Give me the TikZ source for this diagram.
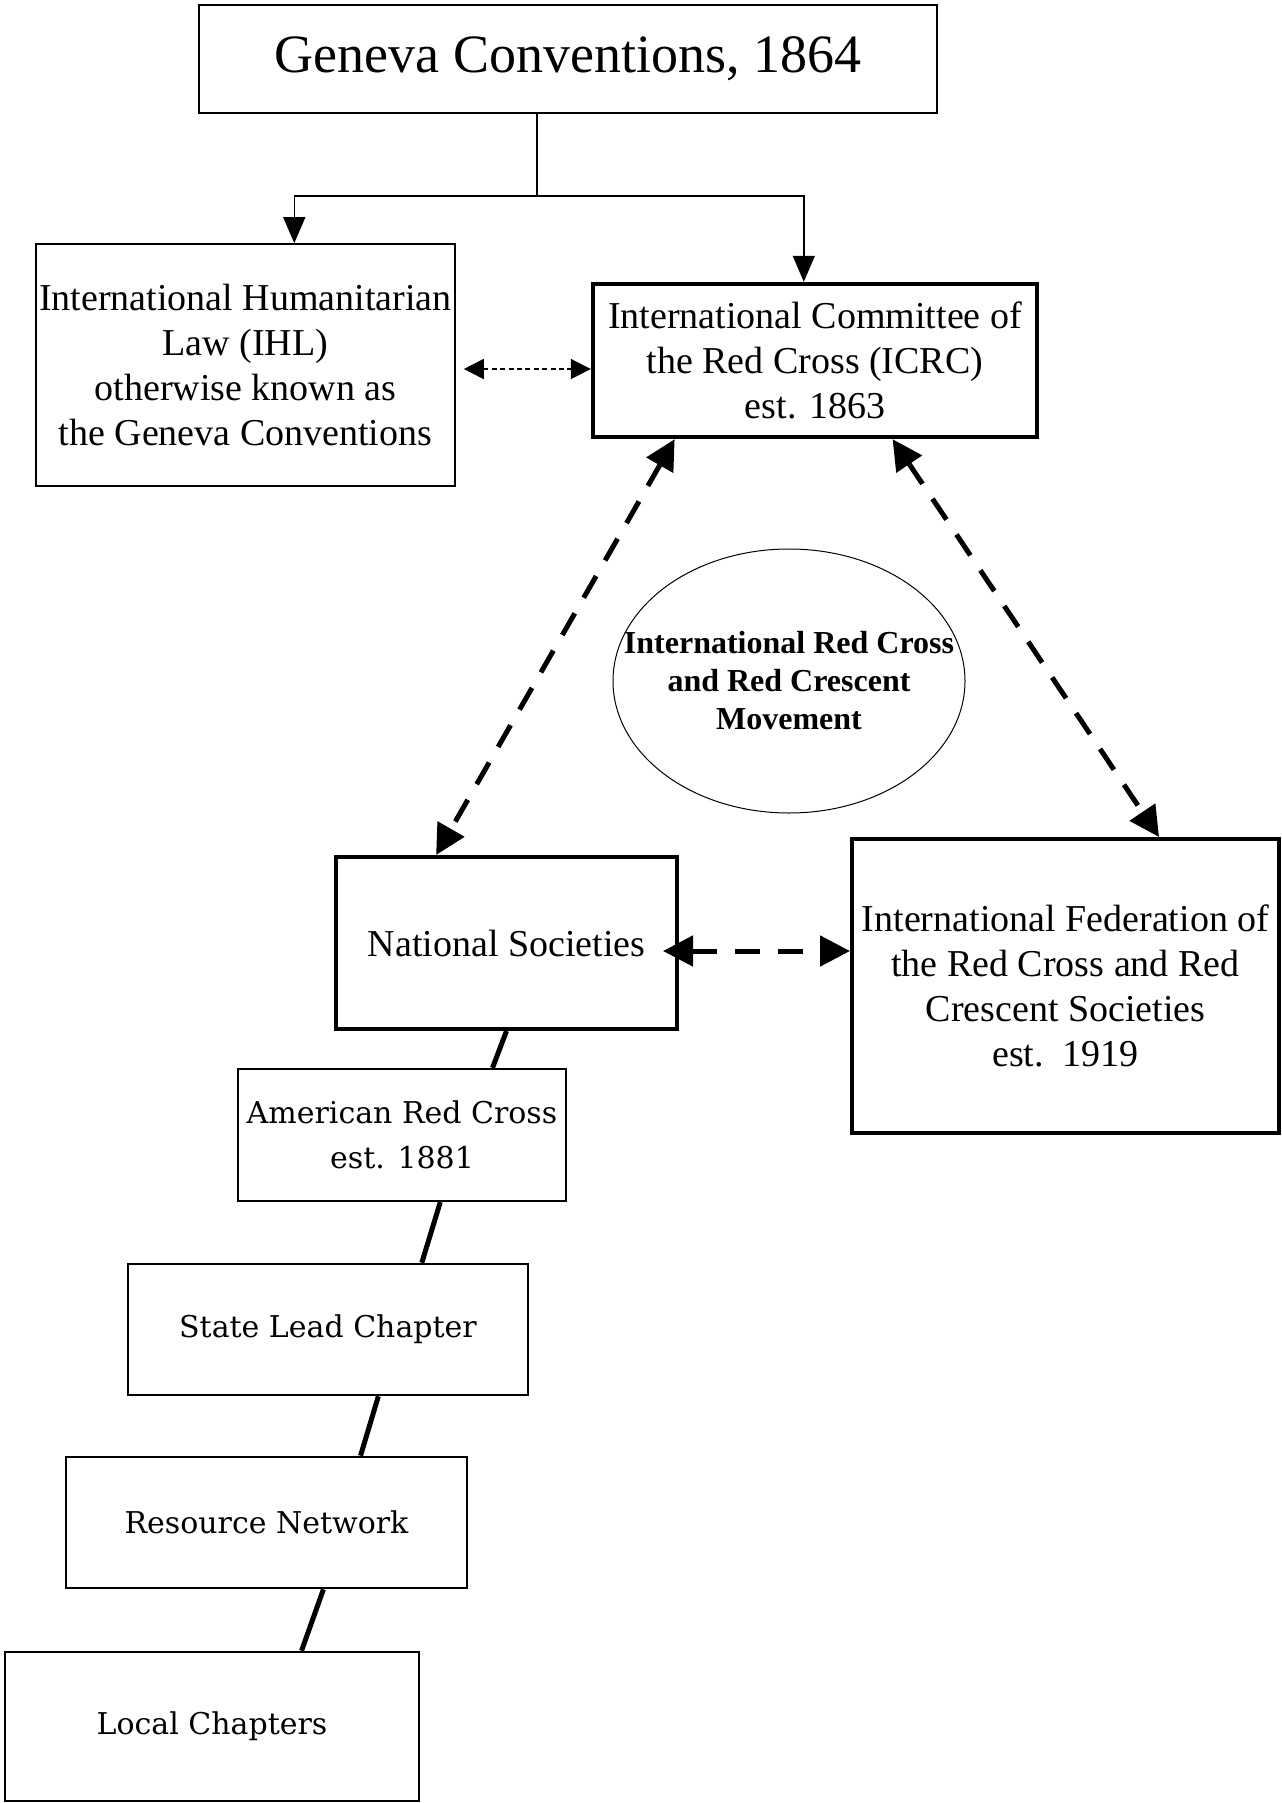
\documentclass[tikz,border=0pt]{standalone}
\usepackage{fontspec}
\setmainfont{Liberation Serif}
\newfontfamily\schoolfont{DejaVu Serif}
\usepackage{tikz}
\usetikzlibrary{positioning, shapes.geometric, arrows.meta, calc}

\begin{document}
\begin{tikzpicture}[
    x=0.5pt, y=-0.5pt,
    box/.style={rectangle, draw, align=center, inner sep=1pt, font=\fontsize{19}{22.5}\selectfont},
    thinbox/.style={box, line width=0.8pt},
    heavybox/.style={box, line width=2.2pt},
    chapterbox/.style={box, line width=1.3pt, font=\schoolfont\fontsize{15}{22.5}\selectfont},
    movement/.style={ellipse, draw, line width=0.5pt, inner sep=0pt},
    movementtext/.style={align=center, inner sep=0pt, font=\bfseries\fontsize{16}{19}\selectfont},
    link/.style={line width=2.5pt},
    feed/.style={line width=0.7pt, -{Triangle[length=13pt, width=11pt]}},
    tie/.style={line width=2.5pt, dash pattern=on 12.5pt off 9pt, {Triangle[length=15pt, width=15pt]}-{Triangle[length=15pt, width=15pt]}},
    lighttie/.style={line width=0.9pt, dash pattern=on 2.5pt off 1.7pt, {Triangle[length=10pt, width=10pt]}-{Triangle[length=10pt, width=10pt]}}
]
\useasboundingbox (0,0) rectangle (1281,1803);

% Top node
\node[thinbox, minimum width=369pt, minimum height=54pt, font=\fontsize{27}{30}\selectfont] (geneva) at (568,59) {Geneva Conventions, 1864};

% Law and committee
\node[thinbox, minimum width=209.5pt, minimum height=121pt] (ihl) at (245.5,365) {International Humanitarian\\ Law (IHL)\\ otherwise known as\\ the Geneva Conventions};
\node[heavybox, minimum width=222pt, minimum height=76.5pt] (icrc) at (815,360.5) {International Committee of\\ the Red Cross (ICRC)\\ est. 1863};

% Movement
\node[movement, minimum width=176pt, minimum height=132pt] (movement) at (789,681) {};
\node[movementtext] (movementlabel) at (movement) {International Red Cross\\ and Red Crescent\\ Movement};

\node[heavybox, line width=2pt, minimum width=170.5pt, minimum height=86pt] (national) at (506.5,943) {National Societies};
\node[heavybox, line width=2pt, minimum width=213.5pt, minimum height=147pt] (ifrc) at (1065.5,986) {International Federation of\\ the Red Cross and Red\\ Crescent Societies\\ est.\ \ 1919};

% Chapters
\node[chapterbox, line width=1.1pt, minimum width=164pt, minimum height=66pt] (american) at (402,1135) {American Red Cross\\ est. 1881};
\node[chapterbox, minimum width=200pt, minimum height=65.5pt] (state) at (328,1329.5) {State Lead Chapter};
\node[chapterbox, minimum width=200.5pt, minimum height=65.5pt] (resource) at (266.5,1522.5) {Resource Network};
\node[chapterbox, minimum width=207pt, minimum height=74.5pt] (local) at (212,1726.5) {Local Chapters};

% Edges
\coordinate (split) at (537,196);
\draw[line width=0.7pt] (geneva.south -| split) -- (split);
\draw[feed] (split) -| ($(ihl.north west)!0.616!(ihl.north east)$);
\draw[feed] (split) -| ($(icrc.north west)!0.475!(icrc.north east)$);
\draw[lighttie, shorten <=4pt] ($(ihl.east)+(0,4)$) -- ($(ihl.east -| icrc.west)+(0,4)$);

\draw[tie] ($(icrc.south west)!0.187!(icrc.south east)$) -- ($(national.north west)!0.296!(national.north east)$);
\draw[tie] ($(icrc.south west)!0.673!(icrc.south east)$) -- ($(ifrc.north west)!0.717!(ifrc.north east)$);
\draw[tie, shorten <=-8pt] ($(national.east)+(0,8)$) -- ($(national.east -| ifrc.west)+(0,8)$);

\draw[link] (national.south) -- ($(american.north west)!0.774!(american.north east)$);
\draw[link] ($(american.south west)!0.616!(american.south east)$) -- ($(state.north west)!0.733!(state.north east)$);
\draw[link] ($(state.south west)!0.625!(state.south east)$) -- ($(resource.north west)!0.733!(resource.north east)$);
\draw[link] ($(resource.south west)!0.641!(resource.south east)$) -- ($(local.north west)!0.715!(local.north east)$);

\end{tikzpicture}
\end{document}
